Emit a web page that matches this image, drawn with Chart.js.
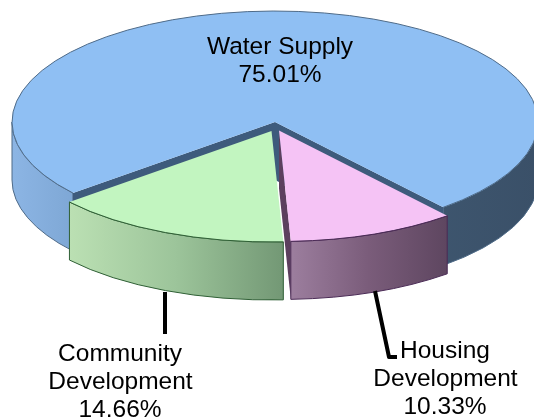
<!DOCTYPE html>
<html>
<head>
<meta charset="utf-8">
<style>html,body{margin:0;padding:0;background:#fff}canvas{display:block}</style>
<script src="https://cdn.jsdelivr.net/npm/chart.js@4"></script>
</head>
<body>
<canvas id="c" width="534" height="420"></canvas>
<script>
const categories = ['Water Supply', 'Housing Development', 'Community Development'];
const shares = [75.01, 10.33, 14.66];
const topColours = ['#8fbff3', '#f5c3f5', '#c2f5c0'];
const edgeColours = ['#4f6b88', '#4a2a55', '#2f5f35'];
const wallStops = [
  [[0, '#8cb5e4'], [0.11, '#7fa8d6'], [0.78, '#3e566f'], [1, '#3a5068']],
  [[0, '#9c7e9e'], [0.5, '#7a5c7a'], [1, '#5e4660']],
  [[0, '#bbe0b3'], [0.5, '#9cc49a'], [1, '#739875']]
];
const faceColours = ['#3e5b7c', '#5c3f5e', '#5c8a5c'];
const explodeX = [0, 4, -3.5];
const explodeY = [0, 8.5, 9];
const TILT = 0.422, DEPTH = 58, RADIUS = 263, PIE_X = 275, PIE_Y = 122;
const labelFont = '24.5px "Liberation Sans", Arial, sans-serif';

const pie3d = {
  id: 'pie3d',
  afterDatasetsUpdate(chart) {
    chart.getDatasetMeta(0).data.forEach((el, i) => {
      el.x += explodeX[i];
      el.y += explodeY[i] / TILT;
    });
  },
  beforeDatasetsDraw(chart) {
    const ctx = chart.ctx, arcs = chart.getDatasetMeta(0).data;
    const ox = chart.chartArea.left + chart.chartArea.width / 2;
    const oy = chart.chartArea.top + chart.chartArea.height / 2;
    const sx = el => el.x - ox + PIE_X, sy = el => (el.y - oy) * TILT + PIE_Y;
    chart.$screen = { sx, sy };
    const face = (el, a, colour) => {
      const x = sx(el), y = sy(el), R = el.outerRadius;
      const px = x + R * Math.cos(a), py = y + R * TILT * Math.sin(a);
      ctx.fillStyle = colour;
      ctx.beginPath();
      ctx.moveTo(x, y); ctx.lineTo(px, py); ctx.lineTo(px, py + DEPTH); ctx.lineTo(x, y + DEPTH);
      ctx.closePath(); ctx.fill();
    };
    const wall = (el, i) => {
      const x = sx(el), y = sy(el), R = el.outerRadius;
      let minX = Infinity, maxX = -Infinity;
      const pieces = [];
      for (let n = -1; n <= 2; n++) {
        const a0 = Math.max(el.startAngle, n * 2 * Math.PI), a1 = Math.min(el.endAngle, n * 2 * Math.PI + Math.PI);
        if (a1 > a0) {
          pieces.push([a0, a1]);
          [a0, a1].forEach(a => { const v = x + R * Math.cos(a); minX = Math.min(minX, v); maxX = Math.max(maxX, v); });
        }
      }
      const g = ctx.createLinearGradient(minX, 0, maxX, 0);
      wallStops[i].forEach(s => g.addColorStop(s[0], s[1]));
      ctx.lineWidth = 1;
      ctx.strokeStyle = edgeColours[i];
      pieces.forEach(([a0, a1]) => {
        ctx.fillStyle = g;
        ctx.beginPath();
        ctx.ellipse(x, y, R, R * TILT, 0, a0, a1);
        ctx.ellipse(x, y + DEPTH, R, R * TILT, 0, a1, a0, true);
        ctx.closePath(); ctx.fill(); ctx.stroke();
      });
    };
    // back piece first, then the pulled-out slices
    wall(arcs[0], 0);
    face(arcs[0], arcs[0].startAngle, faceColours[0]);
    face(arcs[0], arcs[0].endAngle, faceColours[0]);
    face(arcs[1], arcs[1].endAngle, faceColours[1]);
    wall(arcs[1], 1);
    wall(arcs[2], 2);
    ctx.save();
    ctx.translate(PIE_X, PIE_Y);
    ctx.scale(1, TILT);
    ctx.translate(-ox, -oy);
  },
  afterDatasetsDraw(chart) {
    const ctx = chart.ctx, arcs = chart.getDatasetMeta(0).data;
    ctx.restore();
    const { sx, sy } = chart.$screen;
    ctx.lineWidth = 1;
    arcs.forEach((el, i) => {
      ctx.strokeStyle = edgeColours[i];
      ctx.beginPath();
      ctx.ellipse(sx(el), sy(el), el.outerRadius, el.outerRadius * TILT, 0, el.startAngle, el.endAngle);
      ctx.stroke();
    });
    // leader lines
    ctx.strokeStyle = '#000';
    ctx.lineWidth = 4;
    ctx.lineJoin = 'round';
    ctx.beginPath();
    ctx.moveTo(165, 292); ctx.lineTo(165, 334);
    ctx.moveTo(375, 291); ctx.lineTo(389, 357); ctx.lineTo(397, 357);
    ctx.stroke();
    // labels
    ctx.fillStyle = '#000';
    ctx.font = labelFont;
    ctx.textAlign = 'center';
    ctx.textBaseline = 'alphabetic';
    const pct = i => shares[i].toFixed(2) + '%';
    ctx.fillText(categories[0], 280, 53.5);
    ctx.fillText(pct(0), 280, 82);
    ctx.fillText('Community', 120, 361);
    ctx.fillText('Development', 120.5, 389);
    ctx.fillText(pct(2), 120, 417);
    ctx.fillText('Housing', 445, 358);
    ctx.fillText('Development', 445.5, 385.5);
    ctx.fillText(pct(1), 445, 414);
  }
};

new Chart(document.getElementById('c'), {
  type: 'pie',
  data: {
    labels: categories,
    datasets: [{
      data: shares,
      backgroundColor: topColours,
      borderWidth: 0,
      clip: false
    }]
  },
  options: {
    responsive: false,
    animation: false,
    rotation: 230.2,
    radius: RADIUS,
    layout: { padding: 0 },
    events: [],
    plugins: { legend: { display: false }, tooltip: { enabled: false }, title: { display: false } }
  },
  plugins: [pie3d]
});
</script>
</body>
</html>
